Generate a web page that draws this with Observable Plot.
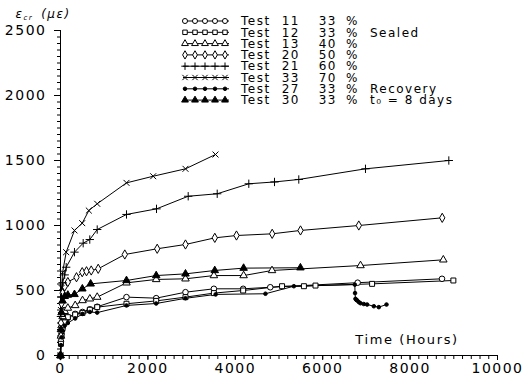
<!DOCTYPE html>
<html><head><meta charset="utf-8">
<script src="https://cdn.jsdelivr.net/npm/d3@7"></script>
<script src="https://cdn.jsdelivr.net/npm/@observablehq/plot@0.6"></script>
<style>body{margin:0;background:#fff}svg{display:block}</style>
</head><body><div id="chart"></div>
<script>
// [hours, creep strain (microstrain)]
const test11 = [[0,0],[10,110],[24,170],[48,220],[96,260],[168,290],[336,320],[504,335],[672,355],[840,375],[1510,449],[2190,441],[2860,487],[3510,513],[4180,513],[4800,525],[6800,560],[8730,590]];
const test12 = [[0,0],[10,90],[24,150],[48,210],[96,255],[168,295],[336,315],[504,328],[672,352],[840,372],[1510,398],[2190,420],[2860,449],[3510,480],[4180,500],[5070,533],[5570,533],[5835,538],[7130,551],[8990,577]];
const test13 = [[0,0],[10,150],[24,230],[48,300],[96,340],[168,365],[336,385],[504,423],[672,436],[840,449],[1510,559],[2190,585],[2860,590],[3510,615],[4190,615],[4840,654],[6865,692],[8760,736]];
const test20 = [[0,0],[10,250],[24,400],[48,480],[96,530],[168,565],[366,602],[497,641],[595,648],[703,654],[863,667],[1471,777],[2213,821],[2860,854],[3531,905],[4027,923],[4844,936],[5492,962],[6826,1000],[8735,1059]];
const test21 = [[0,0],[10,300],[24,450],[48,560],[96,620],[130,679],[320,795],[519,864],[670,892],[840,969],[1510,1085],[2197,1128],[2922,1225],[3586,1244],[4309,1321],[4897,1335],[5453,1354],[6979,1436],[8886,1500]];
const test33 = [[0,0],[10,350],[24,520],[48,640],[130,795],[320,962],[497,1018],[648,1115],[840,1167],[1510,1328],[2121,1379],[2860,1436],[3547,1546]];
const test27 = [[0,0],[10,80],[24,140],[48,190],[96,230],[168,250],[336,285],[504,320],[672,335],[840,330],[1510,385],[2190,400],[2860,440],[3550,470],[4690,475],[5340,533],[6735,545],[6740,480],[6750,436],[6770,428],[6790,423],[6830,410],[6865,402],[6940,396],[7017,392],[7170,379],[7284,372],[7460,392]];
const test30 = [[0,0],[10,200],[24,330],[48,420],[96,455],[168,465],[320,470],[500,513],[690,551],[1510,577],[2190,615],[2860,628],[3530,654],[4190,672],[5490,675]];

const testIds = ["11","12","13","20","21","33","27","30"];
const humidity = ["33","33","40","50","60","70","33","33"];
const seriesData = [test11,test12,test13,test20,test21,test33,test27,test30];
const symbols = ["circle","square","triangle","diamond","plus","times","circle","triangle"];
const filled = [false,false,false,false,false,false,true,true];
const notes = {"12":["Sealed"],"27":["Recovery"],"30":["t\u2080 = 8 days"]};
const xTicks = [0,2000,4000,6000,8000,10000];
const yTicks = [0,500,1000,1500,2000,2500];

const rows = seriesData.flatMap((s,i)=>s.map(([h,v])=>({test:testIds[i],h,v})));

const font = "DejaVu Sans";
const marks = [
  Plot.ruleX([0],{y1:0,y2:2500,stroke:"black"}),
  Plot.ruleY([0],{x1:0,x2:10000,stroke:"black"}),
  Plot.axisY({ticks:d3.range(0,2501,50),tickSize:3,text:null,label:null,stroke:"black"}),
  Plot.axisY({ticks:yTicks,tickSize:6,tickPadding:8,label:null,tickFormat:d3.format("d"),fontSize:14,stroke:"black",fill:"black"}),
  Plot.axisX({ticks:d3.range(0,10001,200),tickSize:4,text:null,label:null,stroke:"black"}),
  Plot.axisX({ticks:xTicks,tickSize:5,tickPadding:3,label:null,tickFormat:d3.format("d"),fontSize:14,stroke:"black",fill:"black"}),
  Plot.line(rows,{x:"h",y:"v",z:"test",stroke:"black",strokeWidth:1})
];
testIds.forEach((id,i)=>{
  const r = rows.filter(d=>d.test===id);
  marks.push(Plot.dot(r,{x:"h",y:"v",symbol:symbols[i],r:filled[i]&&symbols[i]==="circle"?1.8:2.8,stroke:"black",strokeWidth:1,fill:filled[i]?"black":"white"}));
});

const chart = Plot.plot({
  width:523,height:377,
  marginLeft:60,marginRight:26,marginTop:30,marginBottom:22,
  x:{domain:[0,10000],label:null},
  y:{domain:[0,2500],label:null},
  style:{fontFamily:font,fontSize:"14px",background:"white",color:"black",letterSpacing:"1.5px",overflow:"visible"},
  marks
});

const svg = d3.select(chart);
// axis titles
const yt = svg.append("text").attr("x",43).attr("y",18).attr("font-family",font).attr("font-size",12).attr("fill","black").attr("font-style","italic");
yt.append("tspan").text("\u03b5");
yt.append("tspan").attr("font-size",7).attr("dy",2).text("cr");
yt.append("tspan").attr("dy",-2).attr("dx",8).text("(\u03bc\u03b5)");
svg.append("text").attr("x",407).attr("y",344).attr("font-family",font).attr("font-size",13).attr("letter-spacing","1.6px").attr("fill","black").text("Time (Hours)");

// legend
const symMap = {circle:d3.symbolCircle,square:d3.symbolSquare,triangle:d3.symbolTriangle,diamond:d3.symbolDiamond,plus:d3.symbolPlus,times:d3.symbolTimes};
testIds.forEach((id,i)=>{
  const y = 21 + i*11.3;
  const g = svg.append("g");
  g.append("line").attr("x1",183).attr("x2",229).attr("y1",y).attr("y2",y).attr("stroke","black");
  for(let k=0;k<5;k++){
    const sz = filled[i]&&symbols[i]==="circle"?10:20;
    g.append("path").attr("d",d3.symbol(symMap[symbols[i]],sz)()).attr("transform",`translate(${185+k*10},${y})`)
     .attr("stroke","black").attr("fill",filled[i]?"black":"white").attr("stroke-width",1);
  }
  const t = (x,s,anchor)=>g.append("text").attr("x",x).attr("y",y).attr("dy","0.35em").attr("text-anchor",anchor||"start")
     .attr("font-family",font).attr("font-size",12).attr("letter-spacing","1.5px").attr("fill","black").text(s);
  t(241,"Test");
  t(300,id,"end");
  t(337,humidity[i],"end");
  t(346,"%");
  (notes[id]||[]).forEach(n=>t(370,n));
});
document.getElementById("chart").appendChild(chart);
</script></body></html>
